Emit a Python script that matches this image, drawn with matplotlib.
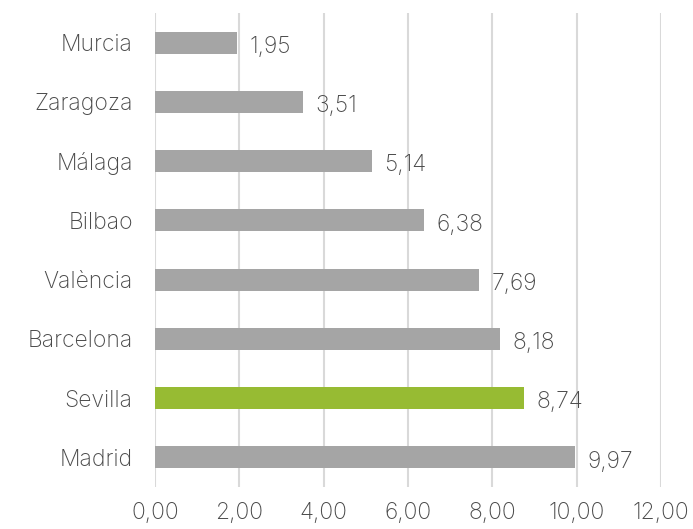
import matplotlib
matplotlib.use("Agg")
import matplotlib.pyplot as plt

cities = ["Madrid", "Sevilla", "Barcelona", "València", "Bilbao", "Málaga", "Zaragoza", "Murcia"]
values = [9.97, 8.74, 8.18, 7.69, 6.38, 5.14, 3.51, 1.95]
highlight = "Sevilla"
xticks = [0, 2, 4, 6, 8, 10, 12]

plt.rcParams['font.family'] = ['Inter', 'DejaVu Sans']
text_color = "#4A4A4A"
fs = 16.5

fig = plt.figure(figsize=(6.93, 5.29), dpi=100)
ax = fig.add_axes([0.2237, 0.0794, 0.7302, 0.8960])

colors = ["#97BB33" if c == highlight else "#A5A5A5" for c in cities]
bars = ax.barh(range(len(cities)), values, height=0.37, color=colors, zorder=3)

for i, v in enumerate(values):
    ax.annotate(f"{v:.2f}".replace(".", ","), (v, i), xytext=(9, -3),
                textcoords="offset points", va="center", ha="left",
                fontsize=fs, color=text_color, fontweight="light")

ax.set_xlim(0, 12)
ax.set_ylim(-0.5, len(cities) - 0.5)
ax.set_xticks(xticks)
ax.set_xticklabels([f"{t:.2f}".replace(".", ",") for t in xticks])
ax.set_yticks(range(len(cities)))
ax.set_yticklabels(cities)
ax.tick_params(axis="x", length=0, pad=11, labelsize=fs, labelcolor=text_color)
ax.tick_params(axis="y", length=0, pad=16, labelsize=fs, labelcolor=text_color)
for lab in ax.get_xticklabels() + ax.get_yticklabels():
    lab.set_fontweight("light")

ax.grid(axis="x", color="#D9D9D9", linewidth=1.5, zorder=0)
for s in ax.spines.values():
    s.set_visible(False)

fig.savefig("out.png", dpi=100)
